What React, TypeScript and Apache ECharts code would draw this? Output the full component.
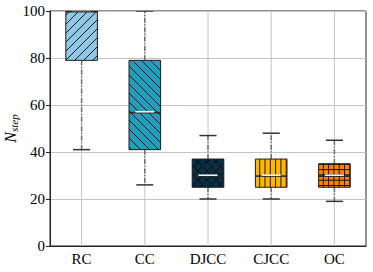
import React, { useEffect, useRef } from 'react';
import * as echarts from 'echarts';

const categories = ['RC', 'CC', 'DJCC', 'CJCC', 'OC'];
const whiskerLow = [41, 26, 20, 20, 19];
const q1 = [79, 41, 25, 25, 25];
const median = [100, 57, 30, 30, 30];
const q3 = [100, 79, 37, 37, 35];
const whiskerHigh = [100, 100, 47, 48, 45];
const colors = ['#8ECAE6', '#219EBC', '#023047', '#FFB703', '#FB8500'];
const hatches = ['/', '\\', 'x', '|', '+'];
const yMin = 0;
const yMax = 100;
const yStep = 20;

const FONT = 'Liberation Serif';

function hatchLines(kind: string, x0: number, y0: number, x1: number, y1: number) {
  const out: any[] = [];
  const st = { stroke: '#000000', lineWidth: 0.9 };
  const diag = 9;
  const ortho = 5.3;
  const add = (ax: number, ay: number, bx: number, by: number) =>
    out.push({ type: 'line', shape: { x1: ax, y1: ay, x2: bx, y2: by }, style: st, silent: true });
  if (kind === '/' || kind === 'x') {
    const cMin = Math.ceil((x0 + y0) / diag) * diag;
    for (let c = cMin; c <= x1 + y1; c += diag) {
      const lo = Math.max(x0, c - y1);
      const hi = Math.min(x1, c - y0);
      if (hi - lo > 0.3) add(lo, c - lo, hi, c - hi);
    }
  }
  if (kind === '\\' || kind === 'x') {
    const cMin = Math.ceil((x0 - y1) / diag) * diag;
    for (let c = cMin; c <= x1 - y0; c += diag) {
      const lo = Math.max(x0, y0 + c);
      const hi = Math.min(x1, y1 + c);
      if (hi - lo > 0.3) add(lo, lo - c, hi, hi - c);
    }
  }
  if (kind === '|' || kind === '+') {
    for (let x = Math.ceil(x0 / ortho) * ortho; x < x1; x += ortho) add(x, y0, x, y1);
  }
  if (kind === '+') {
    for (let y = Math.ceil(y0 / ortho) * ortho; y < y1; y += ortho) add(x0, y, x1, y);
  }
  return out;
}

export default function App() {
  const ref = useRef<HTMLDivElement>(null);
  useEffect(() => {
    const chart = echarts.init(ref.current!, null, { renderer: 'svg' });
    const data = categories.map((c, i) => [i, whiskerLow[i], q1[i], median[i], q3[i], whiskerHigh[i]]);

    const renderItem = (params: any, api: any) => {
      const i = api.value(0);
      const cs = params.coordSys;
      const cx = api.coord([i, 0])[0];
      const yLow = api.coord([i, api.value(1)])[1];
      const yQ1 = api.coord([i, api.value(2)])[1];
      const yMed = api.coord([i, api.value(3)])[1];
      const yQ3 = api.coord([i, api.value(4)])[1];
      const yHigh = api.coord([i, api.value(5)])[1];
      const band = api.size([1, 0])[0];
      const w = band * 0.5;
      const capW = band * 0.27;
      const bx0 = cx - w / 2;
      const bx1 = cx + w / 2;
      const children: any[] = [];
      children.push({
        type: 'line',
        shape: { x1: cx, y1: cs.y, x2: cx, y2: cs.y + cs.height },
        style: { stroke: '#c4c4c4', lineWidth: 1 },
        silent: true,
      });
      const whiskerStyle = { stroke: '#6e6e6e', lineWidth: 1.5, lineDash: [5, 1.6, 1.2, 1.6] };
      children.push({ type: 'line', shape: { x1: cx, y1: yQ3, x2: cx, y2: yHigh }, style: whiskerStyle });
      children.push({ type: 'line', shape: { x1: cx, y1: yQ1, x2: cx, y2: yLow }, style: whiskerStyle });
      const capStyle = { stroke: '#333333', lineWidth: 1.5 };
      children.push({ type: 'line', shape: { x1: cx - capW / 2, y1: yHigh, x2: cx + capW / 2, y2: yHigh }, style: capStyle });
      children.push({ type: 'line', shape: { x1: cx - capW / 2, y1: yLow, x2: cx + capW / 2, y2: yLow }, style: capStyle });
      children.push({
        type: 'rect',
        shape: { x: bx0, y: yQ3, width: w, height: yQ1 - yQ3 },
        style: { fill: colors[i], stroke: 'none' },
      });
      children.push(...hatchLines(hatches[i], bx0, yQ3, bx1, yQ1));
      children.push({
        type: 'line',
        shape: { x1: bx0, y1: yMed + 0.6, x2: bx1, y2: yMed + 0.6 },
        style: { stroke: '#2a2a2a', lineWidth: 1.6 },
      });
      children.push({
        type: 'line',
        shape: { x1: cx - w * 0.3, y1: yMed - 0.3, x2: cx + w * 0.3, y2: yMed - 0.3 },
        style: { stroke: '#f2f2f2', lineWidth: 1.6 },
      });
      children.push({
        type: 'rect',
        shape: { x: bx0, y: yQ3, width: w, height: yQ1 - yQ3 },
        style: { fill: 'none', stroke: '#1e1e1e', lineWidth: 1 },
      });
      return { type: 'group', children };
    };

    chart.setOption({
      animation: false,
      grid: {
        left: 50,
        right: 7,
        top: 11,
        bottom: 26,
        containLabel: false,
        outerBoundsMode: 'none',
        show: true,
        borderColor: '#222',
        borderWidth: 1,
        backgroundColor: 'transparent',
      },
      xAxis: {
        type: 'category',
        data: categories,
        boundaryGap: true,
        axisLine: { show: true, lineStyle: { color: '#222', width: 1 } },
        axisTick: { show: false },
        splitLine: { show: false },
        axisLabel: { color: '#000', fontFamily: FONT, fontSize: 15, margin: 5 },
      },
      yAxis: {
        type: 'value',
        min: yMin,
        max: yMax,
        interval: yStep,
        axisLine: { show: true, lineStyle: { color: '#222', width: 1 } },
        axisTick: { show: true, length: 4, lineStyle: { color: '#222' } },
        splitLine: { show: true, lineStyle: { color: '#c4c4c4', width: 1 } },
        axisLabel: { color: '#000', fontFamily: FONT, fontSize: 15, margin: 5 },
        name: '{n|N}{s|step}',
        nameLocation: 'middle',
        nameRotate: 90,
        nameGap: 31,
        nameMoveOverlap: false,
        nameTextStyle: {
          color: '#000',
          rich: {
            n: { fontFamily: FONT, fontStyle: 'italic', fontSize: 16, color: '#000' },
            s: { fontFamily: FONT, fontStyle: 'italic', fontSize: 11, color: '#000', verticalAlign: 'bottom', padding: [7, 0, 0, 0] },
          },
        },
      },
      series: [
        {
          type: 'custom',
          renderItem,
          data,
          clip: true,
          encode: { x: 0, y: [1, 2, 3, 4, 5] },
        },
      ],
    });
    return () => chart.dispose();
  }, []);
  return <div ref={ref} style={{ width: 373, height: 272, position: 'absolute', left: 0, top: 0 }} />;
}
